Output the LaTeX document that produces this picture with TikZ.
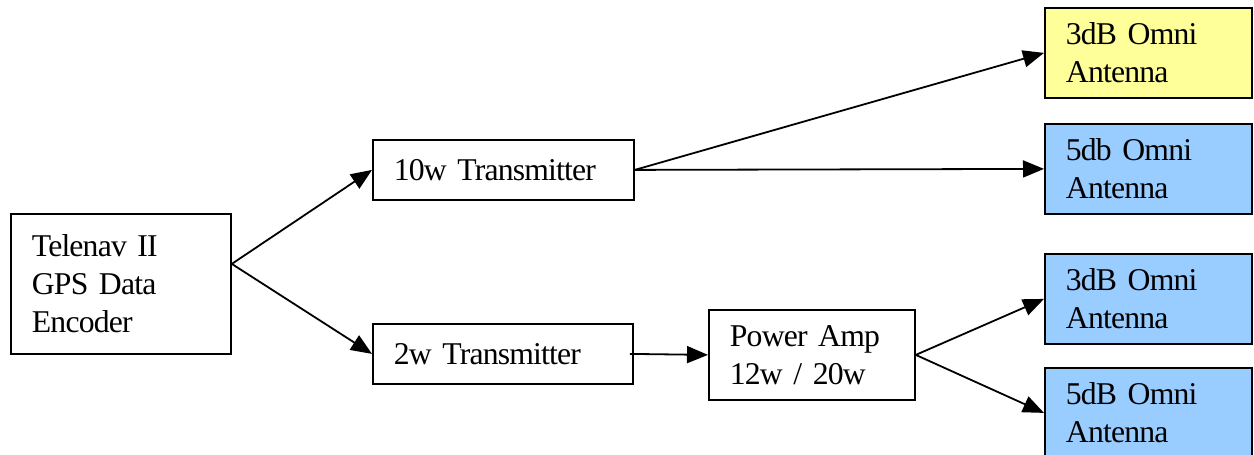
\documentclass[tikz,border=0pt]{standalone}
\usepackage{fontspec}
\setmainfont{Liberation Serif}[LetterSpace=-2.6]
\usetikzlibrary{arrows.meta,calc}
\definecolor{antyellow}{HTML}{FFFF99}
\definecolor{antblue}{HTML}{99CCFF}
\newcommand\myboxfont{\fontsize{31.7}{38}\selectfont\spaceskip=5.5pt\relax}
\begin{document}
\begin{tikzpicture}[x=1pt,y=-1pt,
  box/.style={draw,line width=1.8pt,anchor=north west,align=left,inner xsep=21pt,inner ysep=0pt,
    font=\myboxfont},
  conn/.style={line width=1.8pt,-{Triangle[length=21pt,width=17pt]}}]
\useasboundingbox (0,0) rectangle (1254,455);
\node[box,minimum width=220pt,minimum height=140pt,text width=178pt] (enc) at (10,213) {Telenav II\\GPS Data\\Encoder};
\node[box,minimum width=261pt,minimum height=60pt,text width=219pt] (tx10) at (372,139) {10w Transmitter};
\node[box,minimum width=260pt,minimum height=60pt,text width=218pt] (tx2) at (372,323) {2w Transmitter};
\node[box,minimum width=206pt,minimum height=90pt,text width=164pt] (pa) at (708,309) {Power Amp\\12w / 20w};
\node[box,fill=antyellow,minimum width=207pt,minimum height=90pt,text width=165pt] (a1) at (1044,7) {3dB Omni\\Antenna};
\node[box,fill=antblue,minimum width=207pt,minimum height=90pt,text width=165pt] (a2) at (1044,123) {5db Omni\\Antenna};
\node[box,fill=antblue,minimum width=207pt,minimum height=90pt,text width=165pt] (a3) at (1044,253) {3dB Omni\\Antenna};
\node[box,fill=antblue,minimum width=207pt,minimum height=90pt,text width=165pt] (a4) at (1044,367) {5dB Omni\\Antenna};
\coordinate (encout) at ($(enc.east)+(0,-20)$);
\draw[conn] (encout) -- (tx10.west);
\draw[conn] (encout) -- (tx2.west);
\draw[conn] (tx10.east) -- (a1.west);
\draw[conn] (tx10.east) -- (a2.west);
\draw[conn] ($(tx2.east)+(-4,0)$) -- (pa.west);
\draw[conn] (pa.east) -- (a3.west);
\draw[conn] (pa.east) -- (a4.west);
\end{tikzpicture}
\end{document}
